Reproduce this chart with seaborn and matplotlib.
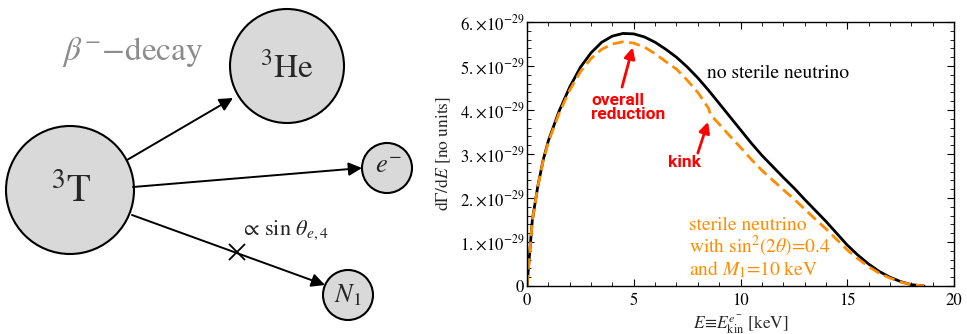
import numpy as np
import pandas as pd
import matplotlib
matplotlib.use("Agg")
import matplotlib.pyplot as plt
import seaborn as sns
from matplotlib.patches import Circle
from matplotlib.ticker import MultipleLocator, FuncFormatter

# ---------------- data ----------------
energy_keV = [0, 0.25, 0.5, 0.75, 1, 1.5, 2, 2.5, 3, 3.5, 4, 4.5, 5, 5.5, 6, 6.5,
              7, 7.5, 8, 8.5, 8.6, 9, 9.5, 10, 10.5, 11, 11.5, 12, 12.5, 13, 13.5,
              14, 14.5, 15, 15.5, 16, 16.5, 17, 17.5, 18, 18.6]
no_sterile = [0, 1.5, 2.25, 2.85, 3.3, 3.97, 4.52, 4.97, 5.3, 5.54, 5.68, 5.74, 5.73,
              5.66, 5.54, 5.38, 5.2, 4.98, 4.73, 4.45, 4.39, 4.15, 3.85, 3.55, 3.25,
              2.97, 2.72, 2.47, 2.23, 1.97, 1.72, 1.47, 1.2, 0.93, 0.7, 0.5, 0.33,
              0.2, 0.1, 0.03, 0]
with_sterile = [0, 1.49, 2.24, 2.83, 3.27, 3.92, 4.45, 4.87, 5.17, 5.38, 5.5, 5.55,
                5.52, 5.43, 5.28, 5.1, 4.93, 4.68, 4.4, 4.04, 3.89, 3.68, 3.41, 3.15,
                2.88, 2.63, 2.41, 2.19, 1.98, 1.75, 1.52, 1.3, 1.06, 0.82, 0.62, 0.44,
                0.29, 0.18, 0.09, 0.03, 0]
scale = 1e-29
x_ticks = [0, 5, 10, 15, 20]
y_ticks = [0, 1, 2, 3, 4, 5, 6]

df = pd.DataFrame({
    "E": energy_keV * 2,
    "rate": [v * scale for v in no_sterile] + [v * scale for v in with_sterile],
    "case": ["none"] * len(energy_keV) + ["sterile"] * len(energy_keV),
})

# ---------------- style ----------------
sns.set_theme(style="white")
plt.rcParams["font.family"] = ["STIXGeneral", "DejaVu Serif"]
plt.rcParams["mathtext.fontset"] = "stix"

ORANGE = "#ff8c00"
RED = "#ff0000"

fig = plt.figure(figsize=(9.67, 3.34), dpi=100)

# ---------------- left: decay diagram ----------------
ax0 = fig.add_axes([0, 0, 480 / 967, 1])
ax0.set_xlim(0, 480)
ax0.set_ylim(334, 0)
ax0.axis("off")

circles = [((70, 190), 64), ((287, 66), 57), ((387, 168), 25), ((348, 295), 25)]
for c, r in circles:
    ax0.add_patch(Circle(c, r, facecolor="#d9d9d9", edgecolor="black", lw=1.5, zorder=2))

ax0.text(71, 192, r"$^{3}\mathrm{T}$", ha="center", va="center", fontsize=28, zorder=3)
ax0.text(287, 68, r"$^{3}\mathrm{He}$", ha="center", va="center", fontsize=24, zorder=3)
ax0.text(388, 167, r"$e^{-}$", ha="center", va="center", fontsize=19, zorder=3)
ax0.text(348, 296, r"$N_1$", ha="center", va="center", fontsize=19, zorder=3)
ax0.text(133, 52, r"$\beta^{-}$$-$decay", ha="center", va="center", fontsize=24,
         color="#8c8c8c")
ax0.text(284, 230, r"$\propto\,\sin\,\theta_{e,4}$", ha="center", va="center", fontsize=16)

arrows = [((127, 160), (233, 98)), ((133, 187), (362, 168)), ((132, 215), (325, 285))]
for s, e in arrows:
    ax0.annotate("", xy=e, xytext=s,
                 arrowprops=dict(arrowstyle="-|>", lw=1.4, color="black",
                                 mutation_scale=20, shrinkA=0, shrinkB=0))
ax0.plot([237], [252], marker="x", markersize=11, mew=1.3, color="black")

# ---------------- right: spectrum ----------------
ax = fig.add_axes([527 / 967, 1 - 286 / 334, (954 - 527) / 967, (286 - 22) / 334])
sns.lineplot(data=df, x="E", y="rate", hue="case", style="case",
             palette={"none": "black", "sterile": ORANGE},
             dashes={"none": "", "sterile": (4, 2)},
             hue_order=["none", "sterile"], linewidth=2, legend=False, ax=ax,
             estimator=None, sort=False)
ax.set_xlim(0, 20)
ax.set_ylim(0, 6e-29)
ax.set_xticks(x_ticks)
ax.set_yticks([v * scale for v in y_ticks])
ax.xaxis.set_minor_locator(MultipleLocator(1))
ax.yaxis.set_minor_locator(MultipleLocator(0.2e-29))


def yfmt(v, pos):
    m = v / scale
    if abs(m) < 1e-9:
        return "0"
    return r"$%d.\!\times\!10^{-29}$" % round(m)


ax.yaxis.set_major_formatter(FuncFormatter(yfmt))
ax.xaxis.set_major_formatter(FuncFormatter(lambda v, p: "%d" % v))
ax.tick_params(which="both", direction="in", top=True, right=True, bottom=True, left=True,
               colors="black", labelsize=12)
ax.tick_params(which="major", length=5, width=0.8)
ax.tick_params(which="minor", length=3, width=0.6)
ax.tick_params(axis="x", pad=5)
ax.tick_params(axis="y", pad=2)
for sp in ax.spines.values():
    sp.set_color("black")
    sp.set_linewidth(1.0)

ax.set_xlabel(r"$E\!\equiv\!E_{\mathrm{kin}}^{e^{-}}$ [keV]", fontsize=12.5, labelpad=3)
ax.set_ylabel(r"d$\Gamma$/d$E$ [no units]", fontsize=12.5, labelpad=5)

ax.text(8.43, 4.82e-29, "no sterile neutrino", fontsize=14, color="black",
        ha="left", va="center")
ax.text(7.59, 0.86e-29, "sterile neutrino\n" + r"with sin$^2$(2$\theta$)=0.4" + "\n"
        + r"and $M_1$=10 keV", fontsize=14, color=ORANGE, ha="left", va="center",
        linespacing=1.0)

ax.text(3.0, 4.06e-29, "overall\nreduction", fontsize=12.5, color=RED,
        fontfamily="Roboto", fontweight="bold", ha="left", va="center", linespacing=0.95)
ax.text(6.6, 2.8e-29, "kink", fontsize=12.5, color=RED, fontfamily="Roboto",
        fontweight="bold", ha="left", va="center")
ax.annotate("", xy=(4.95, 5.42e-29), xytext=(4.45, 4.52e-29),
            arrowprops=dict(arrowstyle="-|>", color=RED, lw=2, mutation_scale=16,
                            shrinkA=0, shrinkB=0))
ax.annotate("", xy=(8.48, 3.73e-29), xytext=(8.0, 3.02e-29),
            arrowprops=dict(arrowstyle="-|>", color=RED, lw=2, mutation_scale=16,
                            shrinkA=0, shrinkB=0))

fig.savefig("out.png", dpi=100)
